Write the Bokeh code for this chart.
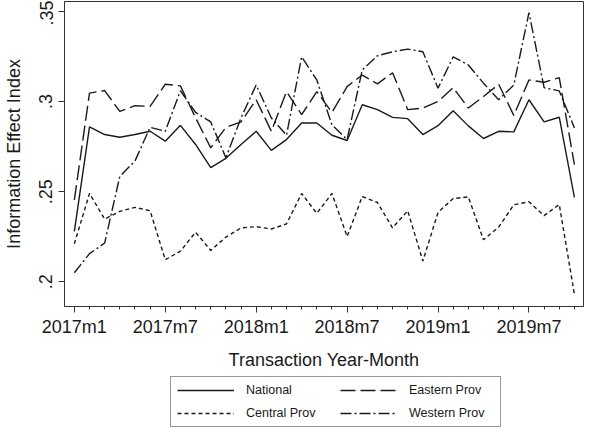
from bokeh.plotting import figure
from bokeh.models import FixedTicker, CustomJSTickFormatter, Legend, LegendItem, Range1d
from bokeh.layouts import column
from bokeh.embed import file_html
from bokeh.resources import INLINE

# ---- data ----
month_index = list(range(34))  # 2017m1 ... 2019m10
tick_positions = [0, 6, 12, 18, 24, 30]
tick_labels = ["2017m1", "2017m7", "2018m1", "2018m7", "2019m1", "2019m7"]
y_ticks = [0.2, 0.25, 0.3, 0.35]
series_names = ["National", "Eastern Prov", "Central Prov", "Western Prov"]

national = [0.228, 0.286, 0.2817, 0.2802, 0.2817, 0.2835, 0.278, 0.2868, 0.2762, 0.2633,
            0.2685, 0.2762, 0.2835, 0.2729, 0.2789, 0.2881, 0.2881, 0.2813, 0.2784, 0.2982,
            0.2955, 0.2912, 0.2905, 0.2817, 0.2866, 0.2949, 0.2865, 0.2795, 0.2835, 0.2832,
            0.301, 0.2887, 0.2913, 0.2468]
eastern = [0.2454, 0.3047, 0.3061, 0.2945, 0.2977, 0.2973, 0.3096, 0.3087, 0.291, 0.2743,
           0.2857, 0.2887, 0.301, 0.2835, 0.3055, 0.2927, 0.3055, 0.294, 0.3083, 0.3147,
           0.3098, 0.316, 0.2955, 0.2964, 0.3, 0.3077, 0.2964, 0.3028, 0.3096, 0.2923,
           0.312, 0.3107, 0.3133, 0.265]
central = [0.2211, 0.249, 0.2348, 0.2391, 0.2413, 0.2394, 0.2122, 0.217, 0.2275, 0.2174,
           0.2248, 0.2299, 0.2306, 0.2293, 0.2321, 0.249, 0.238, 0.249, 0.2251, 0.2473,
           0.244, 0.2299, 0.2394, 0.2115, 0.2385, 0.2462, 0.2471, 0.2233, 0.2303, 0.2427,
           0.2444, 0.2367, 0.2429, 0.1931]
western = [0.205, 0.2156, 0.2215, 0.2585, 0.267, 0.2857, 0.2835, 0.306, 0.294, 0.2887,
           0.2688, 0.291, 0.3092, 0.2909, 0.2813, 0.3248, 0.312, 0.287, 0.279, 0.3175,
           0.3254, 0.3276, 0.3291, 0.3276, 0.3074, 0.3248, 0.3203, 0.3102, 0.301, 0.3092,
           0.3493, 0.3077, 0.3059, 0.2854]

FONT = "Liberation Sans"
INK = "#1a1a1a"
LW = 1.4
DASHES = ["solid", "15 5", "4 3", "11 3 2 3"]

p = figure(width=584, height=375, output_backend="svg", toolbar_location=None,
           x_range=Range1d(-0.65, 33.6), y_range=Range1d(0.1863, 0.3555),
           min_border_left=60, min_border_right=1, min_border_top=1, min_border_bottom=69)
p.background_fill_color = "white"
p.border_fill_color = "white"
p.outline_line_color = "#333333"
p.outline_line_width = 1
p.xgrid.visible = False
p.ygrid.visible = False

for ys, dash in zip([national, eastern, central, western], DASHES):
    p.line(month_index, ys, line_color=INK, line_width=LW, line_dash=dash)

# x axis
xa = p.xaxis[0]
xa.ticker = FixedTicker(ticks=tick_positions, minor_ticks=month_index)
xa.major_label_overrides = {k: v for k, v in zip(tick_positions, tick_labels)}
xa.axis_label = "Transaction Year-Month"

# y axis
ya = p.yaxis[0]
ya.ticker = FixedTicker(ticks=y_ticks, minor_ticks=[])
ya.formatter = CustomJSTickFormatter(code="return tick.toFixed(2).replace(/^0/, '').replace(/0$/, '');")
ya.major_label_orientation = "vertical"
ya.axis_label = "Information Effect Index"

for ax in (xa, ya):
    ax.axis_line_color = "#333333"
    ax.major_tick_line_color = "#333333"
    ax.minor_tick_line_color = "#333333"
    ax.major_tick_out = 6
    ax.major_tick_in = 0
    ax.minor_tick_out = 3
    ax.minor_tick_in = 0
    ax.major_label_text_font = FONT
    ax.major_label_text_font_size = "18px"
    ax.major_label_text_color = INK
    ax.axis_label_text_font = FONT
    ax.axis_label_text_font_size = "18px"
    ax.axis_label_text_font_style = "normal"
    ax.axis_label_text_color = INK

xa.major_label_standoff = 4
xa.axis_label_standoff = 10
ya.major_label_standoff = 6
ya.axis_label_standoff = 13

# ---- legend panel (separate figure below the plot) ----
q = figure(width=584, height=54, output_backend="svg", toolbar_location=None,
           x_range=Range1d(0, 1), y_range=Range1d(0, 1),
           x_axis_location=None, y_axis_location=None,
           min_border_left=0, min_border_right=0, min_border_top=0, min_border_bottom=0)
q.xgrid.visible = False
q.ygrid.visible = False
q.outline_line_color = None
q.background_fill_color = "white"
q.border_fill_color = "white"

# legend sample renderers: their data lie outside the visible range, only the legend shows them
leg_renderers = [q.line([5, 6], [5, 6], line_color=INK, line_width=LW, line_dash=d) for d in DASHES]
legend = Legend(items=[LegendItem(label=n, renderers=[r]) for n, r in zip(series_names, leg_renderers)],
                orientation="horizontal", ncols=2, location=(106, 2))
legend.border_line_color = "#333333"
legend.border_line_width = 1
legend.background_fill_color = "white"
legend.label_text_font = FONT
legend.label_text_font_size = "12.5px"
legend.label_text_color = INK
legend.glyph_width = 57
legend.glyph_height = 12
legend.label_height = 12
legend.label_width = 85
legend.label_standoff = 12
legend.spacing = 9
legend.padding = 6
legend.margin = 0
q.add_layout(legend, "center")

layout = column(p, q, spacing=0)
open("out.html", "w").write(file_html(layout, INLINE))
